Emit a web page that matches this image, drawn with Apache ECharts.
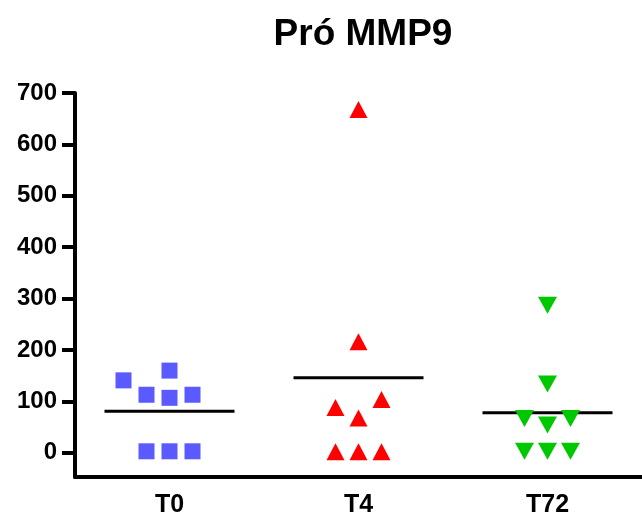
<!DOCTYPE html>
<html>
<head>
<meta charset="utf-8">
<script src="https://cdn.jsdelivr.net/npm/echarts@6/dist/echarts.min.js"></script>
<style>
html,body{margin:0;padding:0;background:#fff;}
#chart{width:642px;height:518px;}
</style>
</head>
<body>
<div id="chart"></div>
<script>
// ---- data ----
const title = 'Pró MMP9';
const categories = ['T0', 'T4', 'T72'];
const valuesT0 = [141, 113, 160, 107, 113, 3, 3, 3];
const valuesT4 = [668, 216, 88, 68, 104, 2, 2, 2];
const valuesT72 = [287, 134, 67, 54, 67, 3, 3, 3];
const means = [81, 146, 78];
const yTicks = [0, 100, 200, 300, 400, 500, 600, 700];

// ---- layout (horizontal jitter columns, as in the reference) ----
const colsT0 = [-2, -1, 0, 0, 1, -1, 0, 1];
const colsT4 = [0, 0, -1, 0, 1, -1, 0, 1];
const colsT72 = [0, 0, -1, 0, 1, -1, 0, 1];
const step = 23;

function pts(catIdx, vals, cols) {
  return vals.map((v, i) => ({
    value: [catIdx, v],
    symbolOffset: [cols[i] * step, 0]
  }));
}

const font = 'Arial, "Liberation Sans", sans-serif';
const chart = echarts.init(document.getElementById('chart'), null, {renderer: 'canvas'});
chart.setOption({
  backgroundColor: '#ffffff',
  animation: false,
  title: {
    text: title,
    left: 358,
    textAlign: 'center',
    top: 11,
    textStyle: {fontFamily: font, fontWeight: 'bold', fontSize: 37, color: '#000'}
  },
  grid: {left: 75, top: 93, width: 578, height: 384},
  xAxis: {
    type: 'category',
    data: categories,
    boundaryGap: true,
    axisLine: {onZero: false, lineStyle: {color: '#000', width: 4}},
    axisTick: {alignWithLabel: true, length: 15, lineStyle: {color: '#000', width: 4}},
    axisLabel: {color: '#000', fontFamily: font, fontWeight: 'bold', fontSize: 25, margin: 16},
    splitLine: {show: false}
  },
  yAxis: {
    type: 'value',
    min: -47,
    max: 700,
    axisLine: {show: true, onZero: false, lineStyle: {color: '#000', width: 4}},
    axisTick: {show: true, length: 13, customValues: yTicks, lineStyle: {color: '#000', width: 4}},
    axisLabel: {customValues: yTicks, color: '#000', fontFamily: font, fontWeight: 'bold', fontSize: 24, margin: 18},
    splitLine: {show: false}
  },
  series: [
    {
      type: 'scatter', name: 'T0', data: pts(0, valuesT0, colsT0),
      symbol: 'rect', symbolSize: 16,
      itemStyle: {color: '#5a5aff', opacity: 1}
    },
    {
      type: 'scatter', name: 'T4', data: pts(1, valuesT4, colsT4),
      symbol: 'triangle', symbolSize: [18, 17],
      itemStyle: {color: '#ff0000', opacity: 1}
    },
    {
      type: 'scatter', name: 'T72', data: pts(2, valuesT72, colsT72),
      symbol: 'triangle', symbolRotate: 180, symbolSize: [19, 17],
      itemStyle: {color: '#00c800', opacity: 1}
    },
    {
      type: 'scatter', name: 'mean', z: 1,
      data: means.map((m, i) => [i, m]),
      symbol: 'rect', symbolSize: [130, 3],
      itemStyle: {color: '#000', opacity: 1}
    }
  ]
});
</script>
</body>
</html>
